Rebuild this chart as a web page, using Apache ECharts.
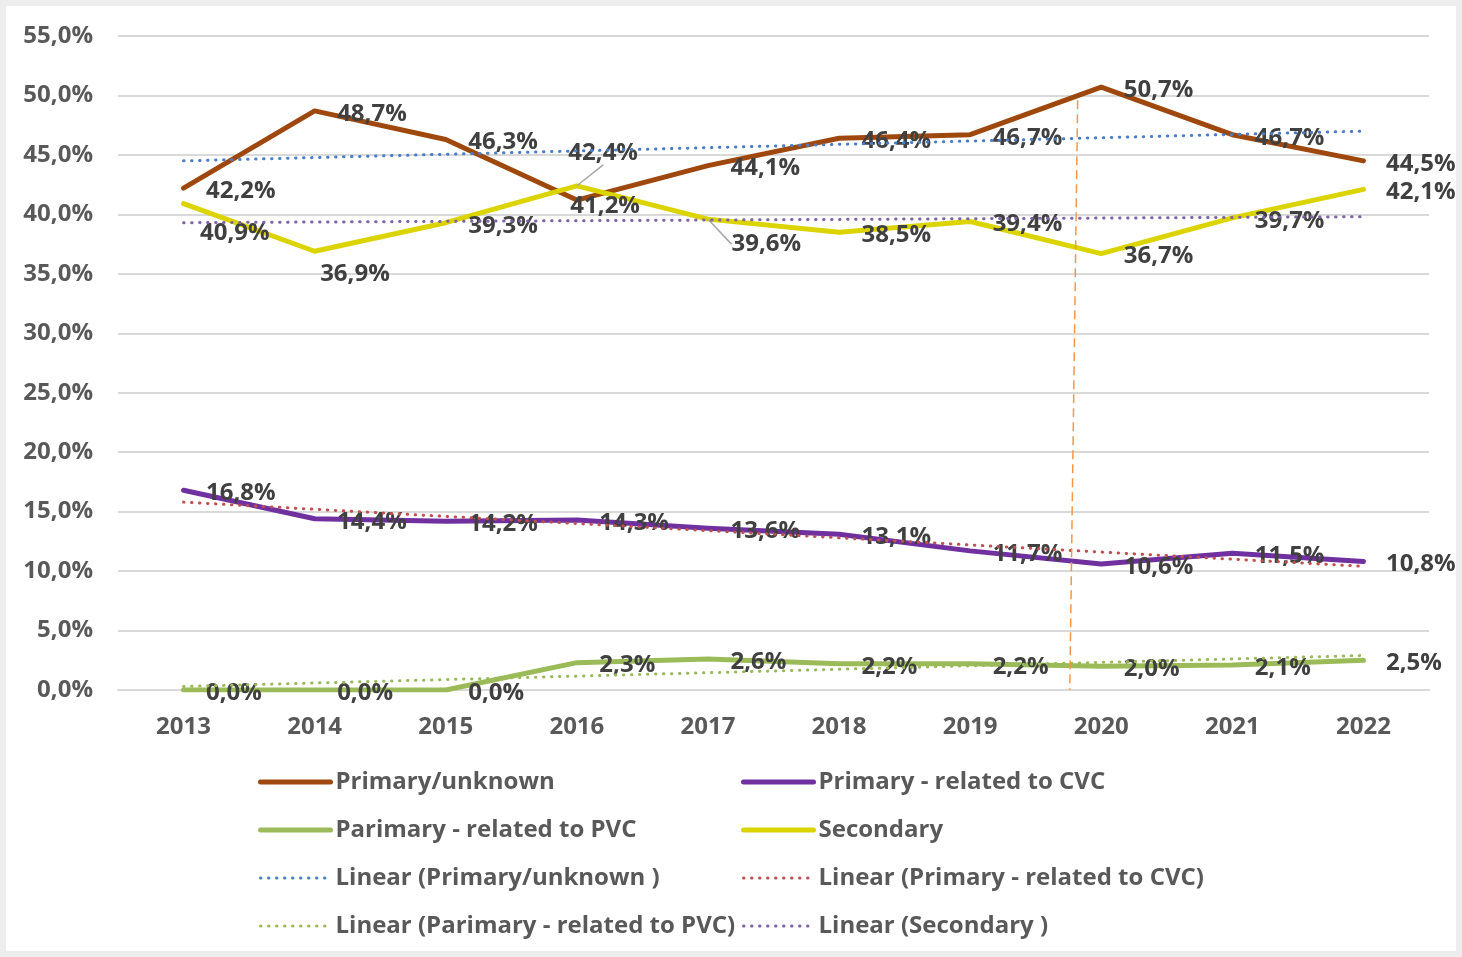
<!DOCTYPE html>
<html>
<head>
<meta charset="utf-8">
<script src="https://cdn.jsdelivr.net/npm/echarts@6/dist/echarts.min.js"></script>
<style>
html, body { margin: 0; padding: 0; background: #ededed; }
#chart { position: absolute; left: 6px; top: 6px; width: 1450px; height: 945px; background: #fff; }
</style>
</head>
<body>
<div id="chart"></div>
<script>
// data
const years = ['2013', '2014', '2015', '2016', '2017', '2018', '2019', '2020', '2021', '2022'];
const primaryUnknown = [42.2, 48.7, 46.3, 41.2, 44.1, 46.4, 46.7, 50.7, 46.7, 44.5];
const primaryCVC = [16.8, 14.4, 14.2, 14.3, 13.6, 13.1, 11.7, 10.6, 11.5, 10.8];
const primaryPVC = [0.0, 0.0, 0.0, 2.3, 2.6, 2.2, 2.2, 2.0, 2.1, 2.5];
const secondary = [40.9, 36.9, 39.3, 42.4, 39.6, 38.5, 39.4, 36.7, 39.7, 42.1];
// trend lines: value at 2013 and at 2022
const trendPrimaryUnknown = [44.5, 47.0];
const trendCVC = [15.8, 10.4];
const trendPVC = [0.3, 2.9];
const trendSecondary = [39.3, 39.8];
const yTicks = [0, 55, 5];

const font = '"Open Sans", "Noto Sans", sans-serif';
const pct = v => v.toFixed(1).replace('.', ',') + '%';

let chart = echarts.init(document.getElementById('chart'));

let labelStyle = {
    show: true,
    position: 'right',
    distance: 22,
    fontFamily: font,
    fontWeight: 'bold',
    fontSize: 24,
    color: '#404040',
    formatter: p => pct(p.value)
};

// tweaks: { index: [dx, dy] } moves single labels
let mainSeries = (name, values, color, tweaks, leaders) => {
    let data = values.map((v, i) => {
        if (leaders && leaders.indexOf(i) >= 0) {
            return { value: v, labelLine: { show: true } };
        }
        return v;
    });
    return {
        name: name,
        type: 'line',
        data: data,
        symbol: 'circle',
        symbolSize: 1,
        itemStyle: { color: color },
        lineStyle: { color: color, width: 5, cap: 'round', join: 'round' },
        label: labelStyle,
        labelLine: { show: false, lineStyle: { color: '#a6a6a6', width: 1.5 } },
        labelLayout: p => {
            let t = (tweaks && tweaks[p.dataIndex]) || [0, 0];
            return { dx: t[0], dy: t[1] + 3 };
        },
        z: 3
    };
};

let trendSeries = (name, ends, color) => {
    let data = years.map(() => null);
    data[0] = ends[0];
    data[years.length - 1] = ends[1];
    return {
        name: name,
        type: 'line',
        data: data,
        connectNulls: true,
        symbol: 'none',
        itemStyle: { color: color },
        lineStyle: { color: color, width: 3, type: [0.5, 7.5], cap: 'round' },
        z: 4
    };
};

let series = [
    mainSeries('Primary/unknown', primaryUnknown, '#9E480E', { 3: [-29, 3] }),
    mainSeries('Primary - related to CVC', primaryCVC, '#7030A0'),
    mainSeries('Parimary - related to PVC', primaryPVC, '#9BBB59'),
    mainSeries('Secondary', secondary, '#DCD400',
        { 0: [-6, 26], 1: [-17, 20], 3: [-31, -36], 4: [1, 22] }, [3, 4]),
    trendSeries('Linear (Primary/unknown )', trendPrimaryUnknown, '#4A7EC8'),
    trendSeries('Linear (Primary - related to CVC)', trendCVC, '#C0504D'),
    trendSeries('Linear (Parimary - related to PVC)', trendPVC, '#9BBB59'),
    trendSeries('Linear (Secondary )', trendSecondary, '#8064A2'),
    {
        name: 'marker',
        type: 'line',
        xAxisIndex: 1,
        data: [],
        silent: true,
        markLine: {
            silent: true,
            symbol: 'none',
            label: { show: false },
            lineStyle: { color: '#F79646', width: 1.5, type: [9, 5] },
            data: [[{ coord: [6.82, 49.6] }, { coord: [6.76, 0] }]]
        }
    }
];

let solid = name => ({ name: name, lineStyle: { width: 5, cap: 'round' } });
let dotted = name => ({ name: name, lineStyle: { width: 3, cap: 'round', type: [0.5, 7.5] } });

let legendBase = {
    orient: 'vertical',
    padding: 0,
    itemWidth: 70,
    itemHeight: 14,
    itemGap: 22,
    itemStyle: { opacity: 0 },
    textStyle: { fontFamily: font, fontWeight: 'bold', fontSize: 24, lineHeight: 26, color: '#595959' },
    selectedMode: false
};

chart.setOption({
    animation: false,
    backgroundColor: '#fff',
    grid: { left: 112, right: 27, top: 30, bottom: 261 },
    legend: [
        Object.assign({}, legendBase, {
            left: 252, top: 763,
            data: [solid('Primary/unknown'), solid('Parimary - related to PVC'),
                dotted('Linear (Primary/unknown )'), dotted('Linear (Parimary - related to PVC)')]
        }),
        Object.assign({}, legendBase, {
            left: 735, top: 763,
            data: [solid('Primary - related to CVC'), solid('Secondary'),
                dotted('Linear (Primary - related to CVC)'), dotted('Linear (Secondary )')]
        })
    ],
    xAxis: [{
        type: 'category',
        data: years,
        boundaryGap: true,
        axisLine: { show: true, lineStyle: { color: '#d9d9d9', width: 2 } },
        axisTick: { show: false },
        axisLabel: { margin: 25, fontFamily: font, fontWeight: 'bold', fontSize: 24, color: '#595959' }
    }, {
        type: 'value',
        min: -0.5,
        max: 9.5,
        show: false
    }],
    yAxis: {
        type: 'value',
        min: yTicks[0],
        max: yTicks[1],
        interval: yTicks[2],
        axisLine: { show: false },
        axisTick: { show: false },
        splitLine: { lineStyle: { color: '#d9d9d9', width: 2 } },
        axisLabel: { margin: 25, fontFamily: font, fontWeight: 'bold', fontSize: 24, color: '#595959', formatter: v => pct(v) }
    },
    series: series
});

window.onresize = () => {
    chart.resize();
};
</script>
</body>
</html>
